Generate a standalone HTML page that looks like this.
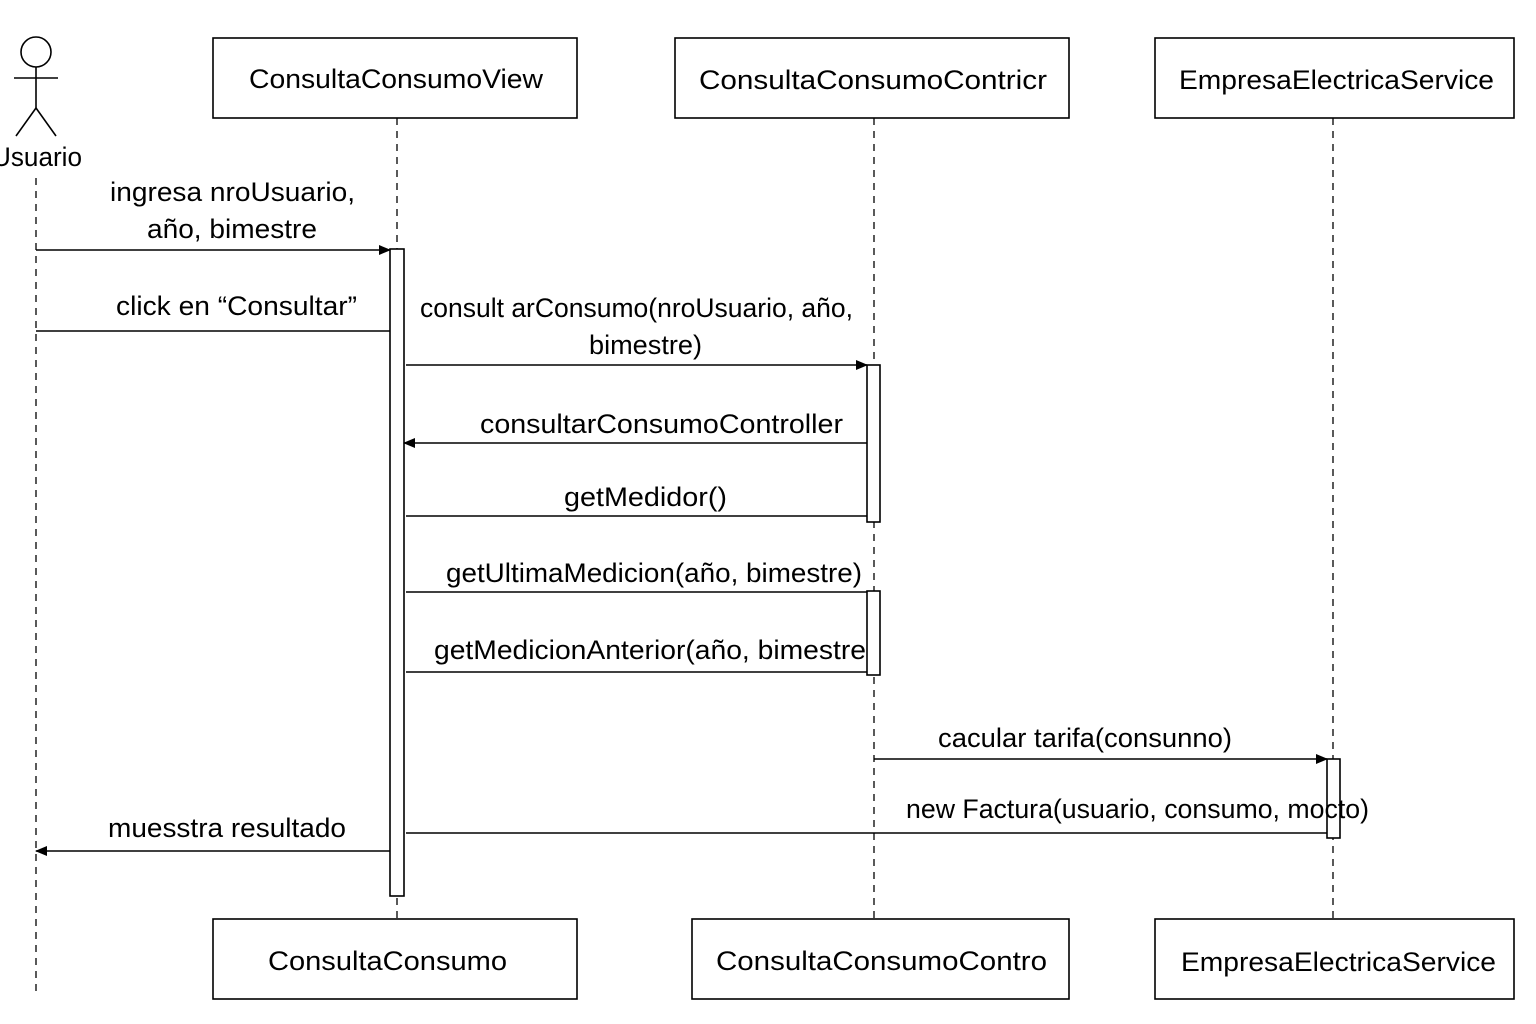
<!DOCTYPE html>
<html><head><meta charset="utf-8"><style>
html,body{margin:0;padding:0;background:#fff;}
svg{display:block;}
text{font-family:"Liberation Sans",sans-serif;fill:#000;}
</style></head><body>
<svg width="1536" height="1024" viewBox="0 0 1536 1024" xmlns="http://www.w3.org/2000/svg">
<defs>
<marker id="a" markerWidth="12" markerHeight="10" refX="11" refY="5" orient="auto" markerUnits="userSpaceOnUse">
<path d="M0,0 L12,5 L0,10 Z" fill="#000"/></marker>
</defs>
<g stroke="#000" stroke-width="1.6" fill="none">
<circle cx="36" cy="52" r="15"/>
<line x1="36" y1="67" x2="36" y2="108"/>
<line x1="14" y1="78" x2="58" y2="78"/>
<line x1="36" y1="108" x2="16" y2="136"/>
<line x1="36" y1="108" x2="56" y2="136"/>
</g>
<g stroke="#000" stroke-width="1.3" stroke-dasharray="7,6" fill="none">
<line x1="36" y1="178" x2="36" y2="996"/>
<line x1="397" y1="118" x2="397" y2="919"/>
<line x1="874" y1="118" x2="874" y2="919"/>
<line x1="1333" y1="118" x2="1333" y2="919"/>
</g>
<g stroke="#000" stroke-width="1.6" fill="#fff">
<rect x="213" y="38" width="364" height="80"/>
<rect x="675" y="38" width="394" height="80"/>
<rect x="1155" y="38" width="359" height="80"/>
<rect x="213" y="919" width="364" height="80"/>
<rect x="692" y="919" width="377" height="80"/>
<rect x="1155" y="919" width="359" height="80"/>
<rect x="390" y="249" width="14" height="647"/>
<rect x="867" y="365" width="13" height="157"/>
<rect x="867" y="591" width="13" height="84"/>
<rect x="1327" y="759" width="13" height="79"/>
</g>
<g stroke="#000" stroke-width="1.6" fill="none">
<line x1="36" y1="250" x2="390" y2="250" marker-end="url(#a)"/>
<line x1="36" y1="331" x2="390" y2="331"/>
<line x1="406" y1="365" x2="867" y2="365" marker-end="url(#a)"/>
<line x1="867" y1="443" x2="404" y2="443" marker-end="url(#a)"/>
<line x1="406" y1="516" x2="867" y2="516"/>
<line x1="406" y1="592" x2="867" y2="592"/>
<line x1="406" y1="672" x2="867" y2="672"/>
<line x1="874" y1="759" x2="1327" y2="759" marker-end="url(#a)"/>
<line x1="406" y1="833" x2="1327" y2="833"/>
<line x1="390" y1="851" x2="36" y2="851" marker-end="url(#a)"/>
</g>
<g font-size="27" lengthAdjust="spacingAndGlyphs">
<text x="-8" y="166" textLength="90" lengthAdjust="spacingAndGlyphs">Usuario</text>
<text x="249" y="88" textLength="294" lengthAdjust="spacingAndGlyphs">ConsultaConsumoView</text>
<text x="699" y="89" textLength="348" lengthAdjust="spacingAndGlyphs">ConsultaConsumoContricr</text>
<text x="1179" y="89" textLength="315" lengthAdjust="spacingAndGlyphs">EmpresaElectricaService</text>
<text x="268" y="970" textLength="239" lengthAdjust="spacingAndGlyphs">ConsultaConsumo</text>
<text x="716" y="970" textLength="331" lengthAdjust="spacingAndGlyphs">ConsultaConsumoContro</text>
<text x="1181" y="971" textLength="315" lengthAdjust="spacingAndGlyphs">EmpresaElectricaService</text>
<text x="110" y="201" textLength="245" lengthAdjust="spacingAndGlyphs">ingresa nroUsuario,</text>
<text x="147" y="238" textLength="170" lengthAdjust="spacingAndGlyphs">año, bimestre</text>
<text x="116" y="315" textLength="241" lengthAdjust="spacingAndGlyphs">click en “Consultar”</text>
<text x="420" y="317" textLength="433" lengthAdjust="spacingAndGlyphs">consult arConsumo(nroUsuario, año,</text>
<text x="589" y="354" textLength="113" lengthAdjust="spacingAndGlyphs">bimestre)</text>
<text x="480" y="433" textLength="363" lengthAdjust="spacingAndGlyphs">consultarConsumoController</text>
<text x="564" y="506" textLength="163" lengthAdjust="spacingAndGlyphs">getMedidor()</text>
<text x="446" y="582" textLength="416" lengthAdjust="spacingAndGlyphs">getUltimaMedicion(año, bimestre)</text>
<text x="434" y="659" textLength="432" lengthAdjust="spacingAndGlyphs">getMedicionAnterior(año, bimestre</text>
<text x="938" y="747" textLength="294" lengthAdjust="spacingAndGlyphs">cacular tarifa(consunno)</text>
<text x="906" y="818" textLength="463" lengthAdjust="spacingAndGlyphs">new Factura(usuario, consumo, mocto)</text>
<text x="108" y="837" textLength="238" lengthAdjust="spacingAndGlyphs">muesstra resultado</text>
</g>
</svg>
</body></html>
